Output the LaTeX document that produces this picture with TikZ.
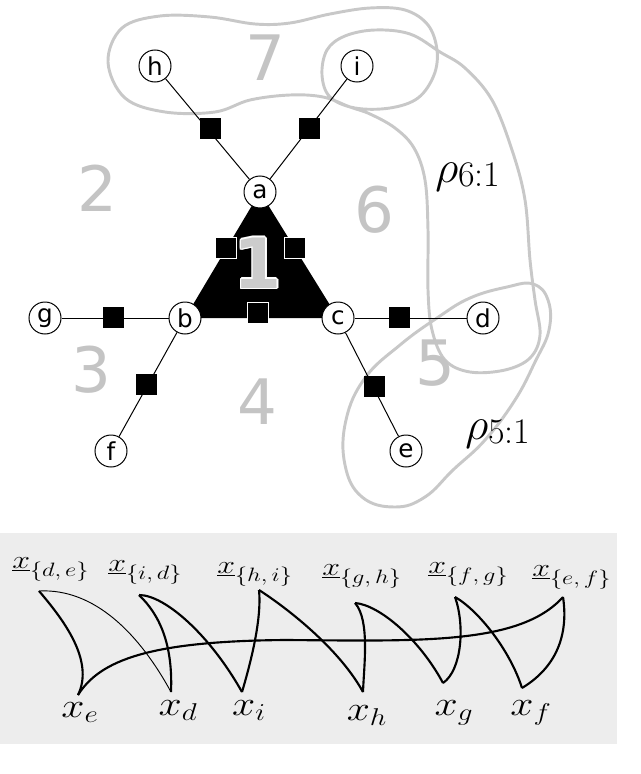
\RequirePackage{fix-cm}
\documentclass[tikz,border=0pt]{standalone}
\usepackage{fontspec}
\usepackage{graphicx}
\newfontfamily\dejavu{DejaVu Sans}
\definecolor{blobgray}{RGB}{200,200,200}
\definecolor{numgray}{RGB}{196,196,196}
\definecolor{panelgray}{RGB}{237,237,237}
\newcommand{\ulab}[2]{\scalebox{1.26}[1]{$\underline{x}$\raisebox{-6.5pt}{\fontsize{14.5}{14.5}\selectfont$\{#1{,}\,#2\}$}}}
\newcommand{\blab}[1]{\scalebox{1.2}[1]{$x_{#1}$}}
\newcommand{\rholab}[1]{{\fontsize{34}{34}\selectfont$\rho$}\raisebox{-3pt}{\fontsize{27}{27}\selectfont #1}}
\pgfdeclarelayer{bg}
\pgfsetlayers{bg,main}
\tikzset{
  var/.style={circle,draw,fill=white,line width=0.75pt,minimum size=24pt,inner sep=0pt,font=\dejavu\fontsize{18.5}{18.5}\selectfont},
  fac/.style={rectangle,fill=black,minimum size=15.75pt,inner sep=0pt},
  facw/.style={fac,draw=white,line width=0.6pt},
  edge/.style={line width=0.75pt},
  blob/.style={draw=blobgray,line width=2.2pt},
  region/.style={text=numgray,font=\dejavu\fontsize{47}{47}\selectfont,inner sep=0pt},
  curve/.style={line width=1.6pt,line join=round},
  thincurve/.style={line width=0.7pt},
  toplab/.style={anchor=base west,inner sep=0pt,font=\fontsize{19}{19}\selectfont},
  botlab/.style={anchor=base,inner sep=0pt,font=\fontsize{26}{26}\selectfont},
}
\begin{document}
\begin{tikzpicture}[x=0.75pt,y=-0.75pt]
\useasboundingbox (0,0) rectangle (640,774);
% variable nodes
\node[var] (h) at (155,66) {h};
\node[var] (i) at (357,66) {i};
\node[var] (a) at (260,192) {a};
\node[var] (b) at (185,318) {b};
\node[var] (c) at (338,318) {c};
\node[var] (g) at (45,318) {g};
\node[var] (d) at (483,318) {d};
\node[var] (f) at (111,451) {f};
\node[var] (e) at (406,451) {e};
\begin{pgfonlayer}{bg}
  % bottom panel
  \fill[panelgray] (0,533) rectangle (617,744);
  % hyperedge outlines (clusters 7 and 6 form one crossing outline)
  \draw[blob] plot[smooth cycle,tension=0.6] coordinates {(108,62) (122,28) (160,16) (210,17) (255,24) (290,23) (330,14) (370,8) (405,10) (428,25) (437,50) (434,75) (418,98) (390,108) (355,108) (330,97) (322,75) (327,50) (345,36) (375,30) (410,34) (440,52) (465,68) (492,100) (512,150) (525,200) (530,260) (535,300) (540,335) (530,358) (505,370) (470,372) (445,360) (432,330) (428,290) (428,230) (425,180) (414,148) (395,128) (370,114) (350,107) (323,97) (290,95) (250,100) (215,112) (165,112) (125,98)};
  \draw[blob] plot[smooth cycle,tension=0.7] coordinates {(507,287) (533,284) (548,300) (549,330) (535,362) (515,400) (485,440) (453,470) (425,497) (395,507) (362,497) (345,465) (346,420) (365,378) (400,345) (437,318) (470,298)};
  % region numbers
  \node[region] (r7) at (265,58) {7};
  \node[region] (r2) at (97,188) {2};
  \node[region] (r6) at (374,210) {6};
  \node[region] (r3) at (91,370) {3};
  \node[region] (r4) at (257,402) {4};
  \node[region] (r5) at (435,363) {5};
  % central factor triangle
  \fill[black] (a.center) -- (b.center) -- (c.center) -- cycle;
\end{pgfonlayer}
% big "1" with a white rim
\foreach \dx/\dy in {-1.6/0,1.6/0,0/-1.6,0/1.6,-1.1/-1.1,1.1/1.1,-1.1/1.1,1.1/-1.1}
  \node[text=white,font=\dejavu\bfseries\fontsize{52}{52}\selectfont,inner sep=0pt] at (258+\dx,263+\dy) {1};
\node[text=black!20,font=\dejavu\bfseries\fontsize{52}{52}\selectfont,inner sep=0pt] (one) at (258,263) {1};
% edges
\draw[edge] (h) -- (a);
\draw[edge] (i) -- (a);
\draw[edge] (g) -- (b);
\draw[edge] (c) -- (d);
\draw[edge] (b) -- (f);
\draw[edge] (c) -- (e);
% factor squares
\node[fac] (fha) at (210,128) {};
\node[fac] (fia) at (309,128) {};
\node[fac] (fgb) at (113,317) {};
\node[fac] (fcd) at (399,317) {};
\node[fac] (fbf) at (146,384) {};
\node[fac] (fce) at (374,386) {};
\node[facw] (fab) at (226,248) {};
\node[facw] (fac) at (295,248) {};
\node[facw] (fbc) at (258,313) {};
% rho labels
\node[anchor=base west,inner sep=0pt] (rho6) at (435,182) {\rholab{6:1}};
\node[anchor=base west,inner sep=0pt] (rho5) at (465,439) {\rholab{5:1}};
% bottom panel: labels
\node[toplab] (tde) at (12,568) {\ulab{d}{e}};
\node[toplab] (tid) at (108,571) {\ulab{i}{d}};
\node[toplab] (thi) at (217,573) {\ulab{h}{i}};
\node[toplab] (tgh) at (322,575) {\ulab{g}{h}};
\node[toplab] (tfg) at (428,573) {\ulab{f}{g}};
\node[toplab] (tef) at (532,576) {\ulab{e}{f}};
\node[botlab] (xe) at (80,717) {\blab{e}};
\node[botlab] (xd) at (178,715) {\blab{d}};
\node[botlab] (xi) at (249,715) {\blab{i}};
\node[botlab] (xh) at (367,720) {\blab{h}};
\node[botlab] (xg) at (454,715) {\blab{g}};
\node[botlab] (xf) at (531,715) {\blab{f}};
% curve end points
\coordinate (A1) at (39,591);
\coordinate (A2) at (139,595);
\coordinate (A3) at (259,590);
\coordinate (A4) at (355,603);
\coordinate (A5) at (455,597);
\coordinate (A6) at (563,597);
\coordinate (Be) at (78,695);
\coordinate (Bd) at (171,692);
\coordinate (Bi) at (242,692);
\coordinate (Bh) at (363,692);
\coordinate (Bg) at (443,683);
\coordinate (Bf) at (522,688);
\draw[curve] (A1) .. controls (62,618) and (95,660) .. (Be);
\draw[thincurve] (A1) .. controls (95,588) and (140,635) .. (Bd);
\draw[curve] (A2) .. controls (160,615) and (173,645) .. (Bd);
\draw[curve] (A2) .. controls (165,595) and (210,635) .. (Bi);
\draw[curve] (A3) .. controls (262,620) and (250,665) .. (Bi);
\draw[curve] (A3) .. controls (290,610) and (340,650) .. (Bh);
\draw[curve] (A4) .. controls (370,620) and (364,665) .. (Bh);
\draw[curve] (A4) .. controls (380,605) and (420,640) .. (Bg);
\draw[curve] (A5) .. controls (465,625) and (462,670) .. (Bg);
\draw[curve] (A5) .. controls (478,610) and (510,650) .. (Bf);
\draw[curve] (A6) .. controls (568,630) and (560,665) .. (Bf);
\coordinate (M) at (286,640);
\draw[curve] (Be) .. controls (100,660) and (150,641) .. (M) .. controls (420,641) and (520,645) .. (A6);
\end{tikzpicture}
\end{document}
